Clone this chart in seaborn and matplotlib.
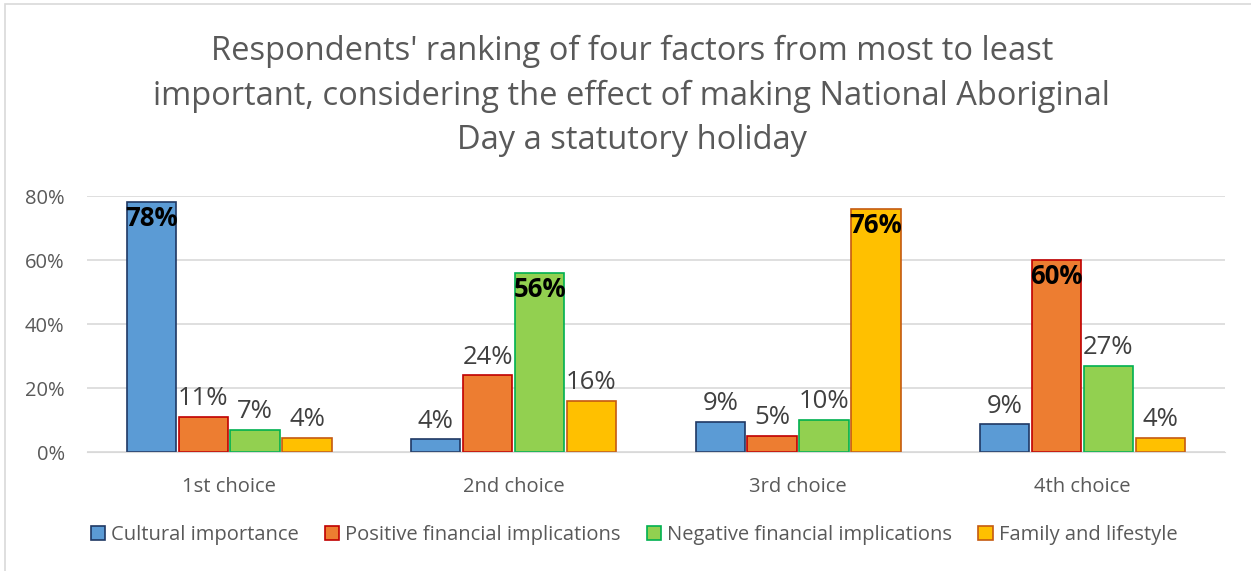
import pandas as pd
import seaborn as sns
import matplotlib.pyplot as plt
from matplotlib.patches import Rectangle

# data
choices = ["1st choice", "2nd choice", "3rd choice", "4th choice"]
factors = ["Cultural importance", "Positive financial implications",
           "Negative financial implications", "Family and lifestyle"]
cultural = [0.78, 0.04, 0.094, 0.087]
positive = [0.11, 0.24, 0.05, 0.60]
negative = [0.07, 0.56, 0.10, 0.27]
family = [0.044, 0.16, 0.76, 0.044]
labels = {
    "Cultural importance": ["78%", "4%", "9%", "9%"],
    "Positive financial implications": ["11%", "24%", "5%", "60%"],
    "Negative financial implications": ["7%", "56%", "10%", "27%"],
    "Family and lifestyle": ["4%", "16%", "76%", "4%"],
}
face_cols = ["#5B9BD5", "#ED7D31", "#92D050", "#FFC000"]
edge_cols = ["#1F3864", "#C00000", "#00B050", "#C55A11"]

rows = []
for f, vals in zip(factors, [cultural, positive, negative, family]):
    for c, v in zip(choices, vals):
        rows.append({"choice": c, "factor": f, "value": v})
df = pd.DataFrame(rows)

sns.set_style("white")
plt.rcParams['font.family'] = ['Open Sans', 'DejaVu Sans']

fig = plt.figure(figsize=(12.51, 5.71), dpi=100)
ax = fig.add_axes([0.0695, 0.2084, 0.9095, 0.4483])
sns.barplot(data=df, x="choice", y="value", hue="factor", palette=face_cols,
            saturation=1, width=0.73, gap=0.05, ax=ax, linewidth=1.2)

# per-series edge colours and labels; group maximum is bold inside the bar
for cont, f, ec in zip(ax.containers, factors, edge_cols):
    vals = df[df.factor == f]["value"].tolist()
    for i, (bar, lab) in enumerate(zip(cont, labels[f])):
        bar.set_edgecolor(ec)
        x = bar.get_x() + bar.get_width() / 2
        h = bar.get_height()
        top = max(df[df.choice == choices[i]]["value"])
        if vals[i] == top:
            ax.annotate(lab, (x, h), xytext=(0, -2), textcoords="offset points",
                        ha="center", va="top", fontsize=18.5, fontweight="bold",
                        color="black")
        else:
            ax.annotate(lab, (x, h), xytext=(0, 4), textcoords="offset points",
                        ha="center", va="bottom", fontsize=18.5, color="#404040")

ax.set_ylim(0, 0.8)
ax.set_yticks([0, 0.2, 0.4, 0.6, 0.8])
ax.set_yticklabels(["0%", "20%", "40%", "60%", "80%"])
ax.set_xlim(-0.5, 3.5)
ax.set_xlabel("")
ax.set_ylabel("")
ax.yaxis.grid(True, color="#D9D9D9", linewidth=1.2)
ax.set_axisbelow(True)
for s in ["top", "right", "left"]:
    ax.spines[s].set_visible(False)
ax.spines["bottom"].set_color("#D9D9D9")
ax.tick_params(axis="both", length=0, labelsize=14.5, colors="#595959")
ax.tick_params(axis="x", pad=18)
ax.tick_params(axis="y", pad=16)

handles, labs = ax.get_legend_handles_labels()
ax.get_legend().remove()
for h, ec in zip(handles, edge_cols):
    h.set_edgecolor(ec)
fig.legend(handles, labs, loc="center", bbox_to_anchor=(0.507, 1 - 535 / 571),
           ncol=4, frameon=False, handlelength=0.7, handleheight=0.7,
           handletextpad=0.3, columnspacing=1.3, fontsize=14.5,
           labelcolor="#595959")

fig.text(0.505, 1 - 96 / 571,
         "Respondents' ranking of four factors from most to least\n"
         "important, considering the effect of making National Aboriginal\n"
         "Day a statutory holiday",
         ha="center", va="center", fontsize=23.5, color="#595959", linespacing=1.45)

fig.patches.append(Rectangle((5 / 1251, -0.01), 1.1, 1 - 4 / 571 + 0.01,
                             transform=fig.transFigure, fill=False,
                             edgecolor="#D9D9D9", linewidth=1.2))

fig.savefig("out.png", dpi=100)
